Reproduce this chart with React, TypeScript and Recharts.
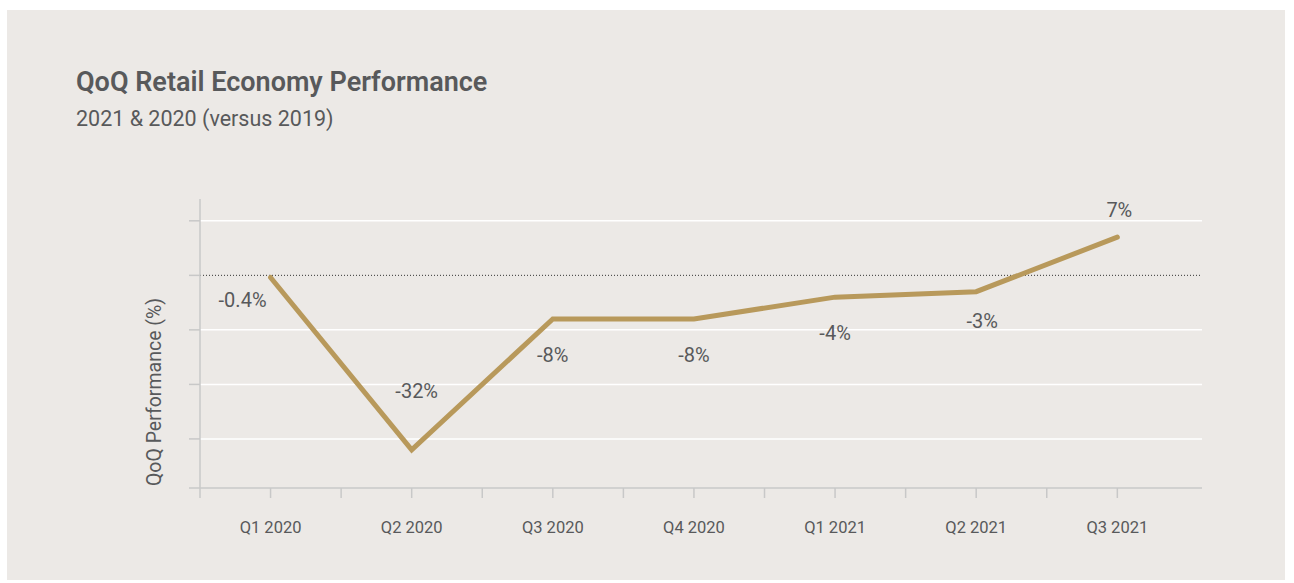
import React from 'react';
import { LineChart, Line, XAxis, YAxis, CartesianGrid, ReferenceLine, LabelList } from 'recharts';

const quarters = ['Q1 2020', 'Q2 2020', 'Q3 2020', 'Q4 2020', 'Q1 2021', 'Q2 2021', 'Q3 2021'];
const performance = [-0.4, -32, -8, -8, -4, -3, 7];
const valueLabels = ['-0.4%', '-32%', '-8%', '-8%', '-4%', '-3%', '7%'];
const yTicks = [-39, -30, -20, -10, 0, 10];
const gridValues = [10, -10, -20, -30];
const xTicks = [-0.5, 0, 0.5, 1, 1.5, 2, 2.5, 3, 3.5, 4, 4.5, 5, 5.5, 6];

// label placement relative to each point (style only)
const labelOffsets = [
  { dx: -28, dy: 29 },
  { dx: 5, dy: -52 },
  { dx: 0, dy: 43 },
  { dx: 0, dy: 43 },
  { dx: 0, dy: 43 },
  { dx: 6, dy: 36 },
  { dx: 2, dy: -20 },
];

const data = quarters.map((q, i) => ({ idx: i, quarter: q, value: performance[i], label: valueLabels[i] }));

const TEXT = '#58595b';
const FONT = 'Roboto, "Noto Sans", sans-serif';

const renderLabel = (props: any) => {
  const { x, y, index, value } = props;
  const o = labelOffsets[index] || { dx: 0, dy: 0 };
  return (
    <text x={x + o.dx} y={y + o.dy} textAnchor="middle" fill={TEXT} fontSize={20} fontFamily={FONT}>
      {value}
    </text>
  );
};

export default function App() {
  return (
    <div
      style={{
        position: 'absolute',
        left: 7,
        top: 10,
        width: 1278,
        height: 570,
        background: '#ece9e6',
        fontFamily: FONT,
      }}
    >
      <LineChart
        width={1278}
        height={570}
        data={data}
        margin={{ top: 189, right: 83, left: 133, bottom: 32 }}
      >
        <CartesianGrid horizontal vertical={false} stroke="#ffffff" strokeWidth={1.5} horizontalValues={gridValues} />
        <XAxis
          type="number"
          dataKey="idx"
          domain={[-0.5, 6.6]}
          ticks={xTicks}
          interval={0}
          height={60}
          tickFormatter={(v: number) => (Number.isInteger(v) ? quarters[v] : '')}
          axisLine={{ stroke: '#c8c8c8', strokeWidth: 1.5 }}
          tickLine={{ stroke: '#c8c8c8', strokeWidth: 1.5 }}
          tickSize={10}
          tickMargin={23}
          tick={{ fill: TEXT, fontSize: 16.5, fontFamily: FONT }}
        />
        <YAxis
          type="number"
          domain={[-39, 14]}
          ticks={yTicks}
          interval={0}
          width={60}
          tickFormatter={() => ''}
          axisLine={{ stroke: '#c8c8c8', strokeWidth: 1.5 }}
          tickLine={{ stroke: '#c8c8c8', strokeWidth: 1.5 }}
          tickSize={11}
        />
        <ReferenceLine y={0} stroke="#333333" strokeWidth={1} strokeDasharray="1 2" />
        <Line
          type="linear"
          dataKey="value"
          stroke="#b8995b"
          strokeWidth={5}
          dot={false}
          activeDot={false}
          strokeLinecap="round"
          isAnimationActive={false}
        >
          <LabelList dataKey="label" content={renderLabel} />
        </Line>
      </LineChart>
      <svg
        width={1278}
        height={570}
        style={{ position: 'absolute', left: 0, top: 0, pointerEvents: 'none' }}
      >
        <text x={69} y={81} fill={TEXT} fontSize={27} fontWeight={600} fontFamily={FONT}>
          QoQ Retail Economy Performance
        </text>
        <text x={69} y={116} fill={TEXT} fontSize={21.5} fontFamily={FONT}>
          2021 &amp; 2020 (versus 2019)
        </text>
        <text
          x={147}
          y={382}
          transform="rotate(-90 147 382)"
          textAnchor="middle"
          dominantBaseline="central"
          fill={TEXT}
          fontSize={19.5}
          fontFamily={FONT}
        >
          QoQ Performance (%)
        </text>
      </svg>
    </div>
  );
}
